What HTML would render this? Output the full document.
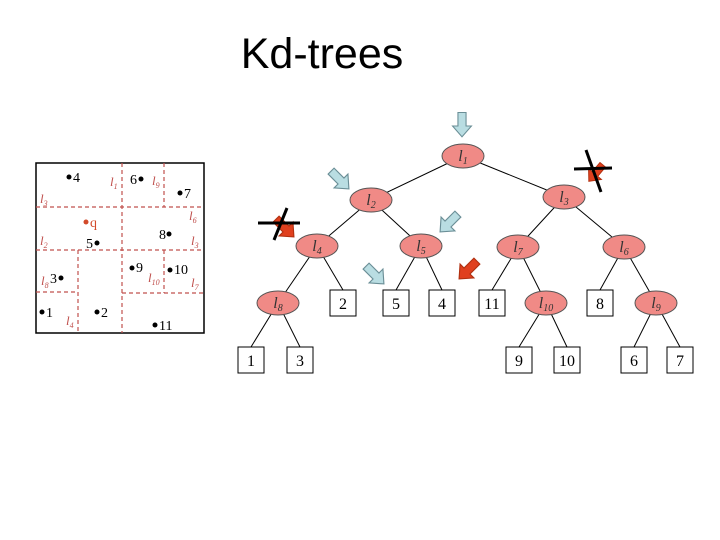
<!DOCTYPE html>
<html><head><style>body{margin:0;background:#fff}svg{display:block}</style></head><body>
<svg width="720" height="540" viewBox="0 0 720 540" xmlns="http://www.w3.org/2000/svg">
<text x="322" y="68" font-family="Liberation Sans,sans-serif" font-size="43" text-anchor="middle">Kd-trees</text>
<rect x="36" y="163" width="168" height="170" fill="none" stroke="#000" stroke-width="1.5"/>
<g stroke="#c0504d" stroke-width="1.2" stroke-dasharray="4,3" fill="none">
<line x1="122" y1="163" x2="122" y2="333"/><line x1="36" y1="207" x2="204" y2="207"/>
<line x1="36" y1="250" x2="204" y2="250"/><line x1="78" y1="250" x2="78" y2="333"/>
<line x1="36" y1="292" x2="78" y2="292"/><line x1="164" y1="163" x2="164" y2="207"/>
<line x1="164" y1="250" x2="164" y2="293"/><line x1="122" y1="293" x2="204" y2="293"/>
</g>
<g font-family="Liberation Serif,serif" font-size="13" font-style="italic" fill="#c0504d">
<text x="110" y="186">l<tspan font-size="8" dy="3">1</tspan></text>
<text x="40" y="203">l<tspan font-size="8" dy="3">3</tspan></text>
<text x="40" y="245">l<tspan font-size="8" dy="3">2</tspan></text>
<text x="152" y="185">l<tspan font-size="8" dy="3">9</tspan></text>
<text x="189" y="220">l<tspan font-size="8" dy="3">6</tspan></text>
<text x="191" y="245">l<tspan font-size="8" dy="3">3</tspan></text>
<text x="41" y="285">l<tspan font-size="8" dy="3">8</tspan></text>
<text x="148" y="282">l<tspan font-size="8" dy="3">10</tspan></text>
<text x="191" y="287">l<tspan font-size="8" dy="3">7</tspan></text>
<text x="66" y="325">l<tspan font-size="8" dy="3">4</tspan></text>
</g>
<g font-family="Liberation Serif,serif" font-size="14">
<circle cx="69" cy="177" r="2.5"/><text x="73" y="182">4</text>
<text x="130" y="184">6</text><circle cx="141" cy="179" r="2.5"/>
<circle cx="180" cy="193" r="2.5"/><text x="184" y="198">7</text>
<circle cx="86" cy="222" r="2.5" fill="#d24a2a"/><text x="90" y="227" fill="#d24a2a">q</text>
<text x="86" y="248">5</text><circle cx="97" cy="243" r="2.5"/>
<text x="159" y="239">8</text><circle cx="169" cy="234" r="2.5"/>
<text x="50" y="283">3</text><circle cx="61" cy="278" r="2.5"/>
<circle cx="132" cy="268" r="2.5"/><text x="136" y="272">9</text>
<circle cx="170" cy="270" r="2.5"/><text x="174" y="274">10</text>
<circle cx="42" cy="312" r="2.5"/><text x="46" y="317">1</text>
<circle cx="97" cy="312" r="2.5"/><text x="101" y="317">2</text>
<circle cx="155" cy="325" r="2.5"/><text x="159" y="330">11</text>
</g>
<g stroke="#000" stroke-width="1">
<line x1="463" y1="156" x2="371" y2="200"/><line x1="463" y1="156" x2="564" y2="197"/>
<line x1="371" y1="200" x2="317" y2="246"/><line x1="371" y1="200" x2="421" y2="246"/>
<line x1="317" y1="246" x2="278" y2="303"/><line x1="317" y1="246" x2="343" y2="290"/>
<line x1="421" y1="246" x2="396" y2="290"/><line x1="421" y1="246" x2="442" y2="290"/>
<line x1="278" y1="303" x2="251" y2="347"/><line x1="278" y1="303" x2="300" y2="347"/>
<line x1="564" y1="197" x2="518" y2="247"/><line x1="564" y1="197" x2="624" y2="247"/>
<line x1="518" y1="247" x2="492" y2="290"/><line x1="518" y1="247" x2="546" y2="303"/>
<line x1="624" y1="247" x2="600" y2="290"/><line x1="624" y1="247" x2="656" y2="303"/>
<line x1="546" y1="303" x2="519" y2="347"/><line x1="546" y1="303" x2="567" y2="347"/>
<line x1="656" y1="303" x2="634" y2="347"/><line x1="656" y1="303" x2="680" y2="347"/>
</g>
<g fill="#f08a86" stroke="#555" stroke-width="1">
<ellipse cx="463" cy="156" rx="21" ry="12"/><ellipse cx="371" cy="200" rx="21" ry="12"/>
<ellipse cx="317" cy="246" rx="21" ry="12"/><ellipse cx="421" cy="246" rx="21" ry="12"/>
<ellipse cx="278" cy="303" rx="21" ry="12"/><ellipse cx="564" cy="197" rx="21" ry="12"/>
<ellipse cx="518" cy="247" rx="21" ry="12"/><ellipse cx="624" cy="247" rx="21" ry="12"/>
<ellipse cx="546" cy="303" rx="21" ry="12"/><ellipse cx="656" cy="303" rx="21" ry="12"/>
</g>
<g font-family="Liberation Serif,serif" font-size="16" font-style="italic" fill="#333" text-anchor="middle">
<text x="463" y="161">l<tspan font-size="10" dy="3">1</tspan></text>
<text x="371" y="205">l<tspan font-size="10" dy="3">2</tspan></text>
<text x="317" y="251">l<tspan font-size="10" dy="3">4</tspan></text>
<text x="421" y="251">l<tspan font-size="10" dy="3">5</tspan></text>
<text x="278" y="308">l<tspan font-size="10" dy="3">8</tspan></text>
<text x="564" y="202">l<tspan font-size="10" dy="3">3</tspan></text>
<text x="518" y="252">l<tspan font-size="10" dy="3">7</tspan></text>
<text x="624" y="252">l<tspan font-size="10" dy="3">6</tspan></text>
<text x="546" y="308">l<tspan font-size="10" dy="3">10</tspan></text>
<text x="656" y="308">l<tspan font-size="10" dy="3">9</tspan></text>
</g>
<g fill="#fff" stroke="#000" stroke-width="1">
<rect x="330" y="290" width="26" height="26"/><rect x="383" y="290" width="26" height="26"/>
<rect x="429" y="290" width="26" height="26"/><rect x="238" y="347" width="26" height="26"/>
<rect x="287" y="347" width="26" height="26"/><rect x="479" y="290" width="26" height="26"/>
<rect x="587" y="290" width="26" height="26"/><rect x="506" y="347" width="26" height="26"/>
<rect x="554" y="347" width="26" height="26"/><rect x="621" y="347" width="26" height="26"/>
<rect x="667" y="347" width="26" height="26"/>
</g>
<g font-family="Liberation Serif,serif" font-size="16" text-anchor="middle">
<text x="343" y="309">2</text><text x="396" y="309">5</text><text x="442" y="309">4</text>
<text x="251" y="366">1</text><text x="300" y="366">3</text><text x="492" y="309">11</text>
<text x="600" y="309">8</text><text x="519" y="366">9</text><text x="567" y="366">10</text>
<text x="634" y="366">6</text><text x="680" y="366">7</text>
</g>
<defs><path id="ar" d="M-3,-10 L3,-10 L3,0 L7,0 L0,8 L-7,0 L-3,0 Z"/></defs>
<g fill="#b9dde2" stroke="#6a8e96" stroke-width="0.8">
<use href="#ar" transform="translate(462,126) scale(1.35)"/>
<use href="#ar" transform="translate(341,181) rotate(-45) scale(1.4)"/>
<use href="#ar" transform="translate(448,224) rotate(45) scale(1.4)"/>
<use href="#ar" transform="translate(376,276) rotate(-45) scale(1.4)"/>
</g>
<g fill="#e0401e" stroke="#b03010" stroke-width="0.8">
<use href="#ar" transform="translate(286,229) rotate(-45) scale(1.4)"/>
<use href="#ar" transform="translate(467,271) rotate(45) scale(1.4)"/>
<use href="#ar" transform="translate(595,174) rotate(40) scale(1.2)"/>
</g>
<g stroke="#000" stroke-width="3">
<line x1="258" y1="223" x2="300" y2="223"/><line x1="287" y1="208" x2="274" y2="240"/>
<line x1="574" y1="169" x2="612" y2="168"/><line x1="586" y1="150" x2="601" y2="192"/>
</g>
</svg>
</body></html>
